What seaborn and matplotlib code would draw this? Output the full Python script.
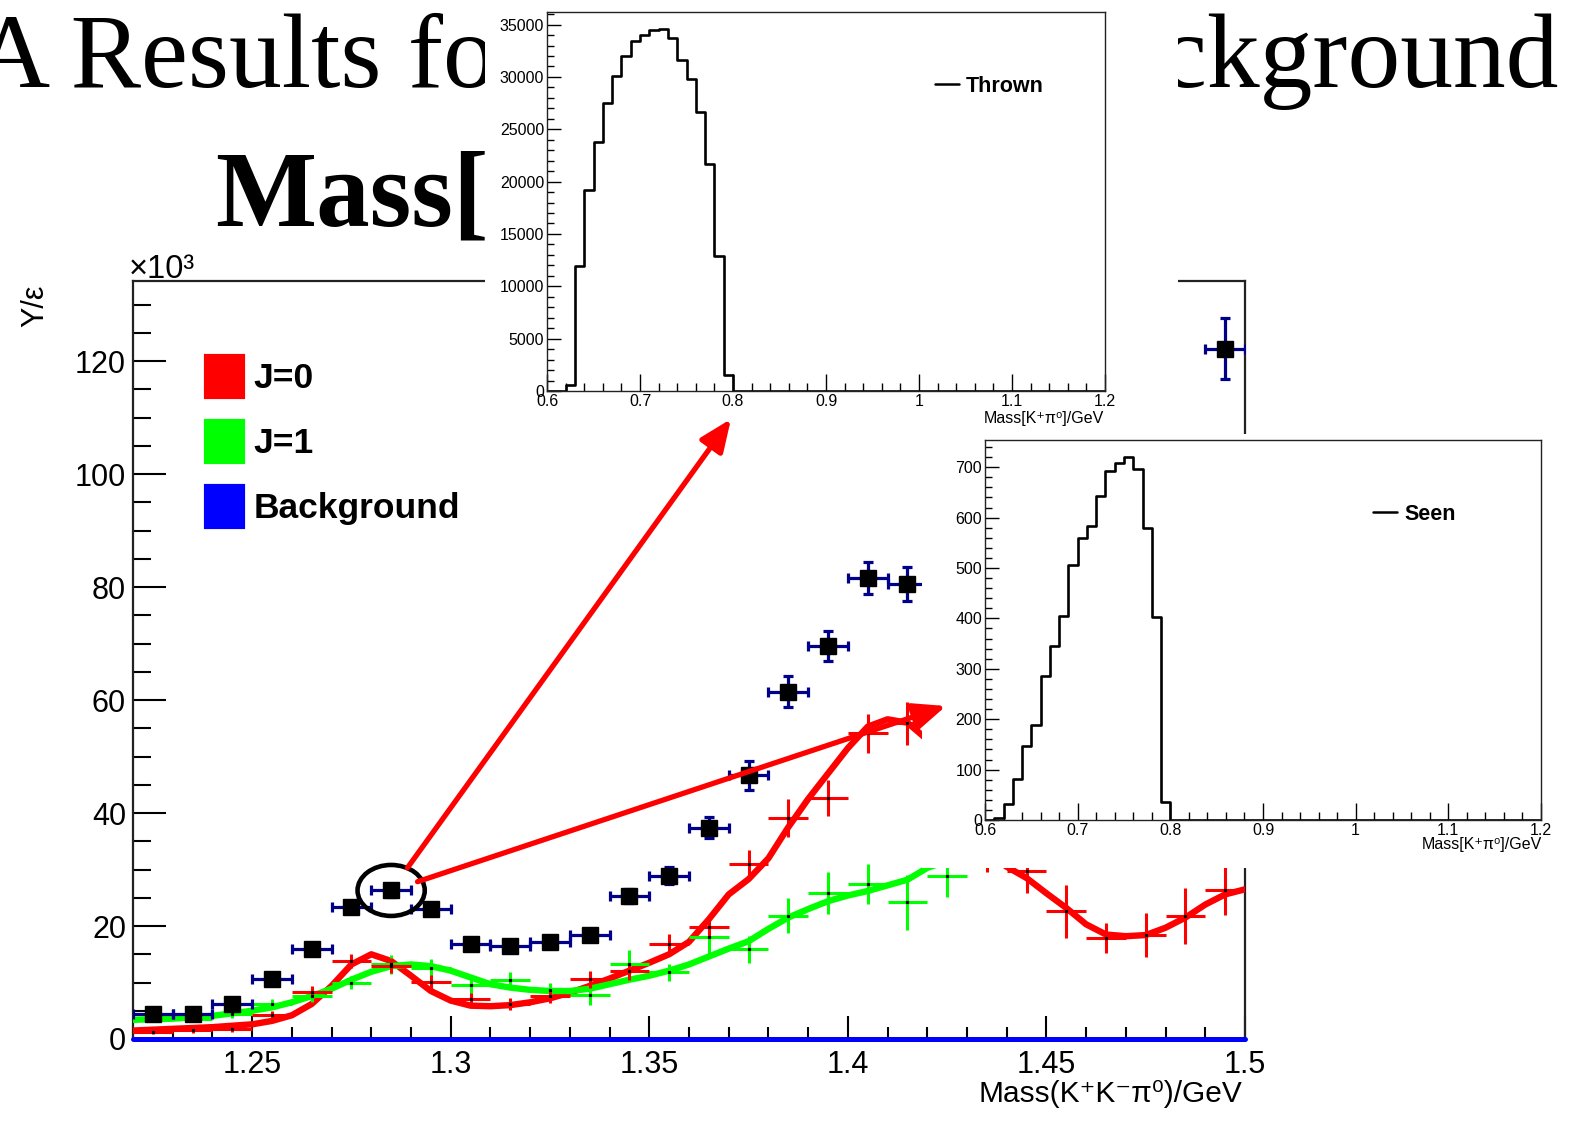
import numpy as np
import pandas as pd
import matplotlib
matplotlib.use("Agg")
import matplotlib.pyplot as plt
import seaborn as sns
from matplotlib.patches import Patch, Rectangle, Ellipse, ConnectionPatch
from matplotlib.ticker import MultipleLocator, FuncFormatter
from matplotlib.lines import Line2D

# ---------------- data ----------------
# main plot: bin centres (bin width 0.01 GeV)
bin_centers = [1.225, 1.235, 1.245, 1.255, 1.265, 1.275, 1.285, 1.295, 1.305, 1.315,
               1.325, 1.335, 1.345, 1.355, 1.365, 1.375, 1.385, 1.395, 1.405, 1.415,
               1.425, 1.435, 1.445, 1.455, 1.465, 1.475, 1.485, 1.495]
data_y = [4.4, 4.4, 6.2, 10.6, 15.9, 23.3, 26.3, 23.0, 16.9, 16.5,
          17.2, 18.4, 25.3, 28.9, 37.4, 46.7, 61.5, 69.6, 81.6, 80.6,
          86.0, 88.0, 90.0, 92.0, 93.0, 94.0, 95.0, 122.2]
data_err = [0.5, 0.5, 0.6, 0.8, 0.9, 1.0, 1.1, 1.0, 1.0, 1.0,
            1.0, 1.1, 1.3, 1.5, 1.9, 2.6, 2.7, 2.7, 2.8, 3.0,
            3.2, 3.4, 3.6, 3.8, 4.0, 4.4, 4.8, 5.4]
j0_y = [1.2, 1.6, 1.8, 4.2, 8.4, 13.8, 13.0, 10.1, 7.0, 6.2,
        7.6, 10.6, 12.0, 16.8, 19.9, 30.9, 39.1, 42.7, 54.1, 55.9,
        48.0, 34.0, 29.7, 22.6, 17.9, 18.4, 21.8, 26.4]
j0_err = [0.4, 0.5, 0.6, 0.8, 1.0, 1.2, 1.3, 1.3, 1.2, 1.0,
          1.2, 1.5, 1.5, 1.8, 2.0, 2.5, 3.4, 3.2, 3.4, 3.8,
          4.0, 4.5, 3.8, 4.7, 2.6, 3.9, 5.0, 4.4]
j1_y = [3.5, 3.6, 4.4, 6.2, 7.6, 10.0, 13.2, 12.6, 9.5, 10.5,
        8.7, 7.8, 13.2, 11.8, 18.0, 15.9, 21.8, 25.9, 27.4, 24.2,
        28.8, 35.0, 36.0, 37.0, 38.0, 39.0, 40.0, 41.0]
j1_err = [0.4, 0.5, 0.6, 0.8, 1.0, 1.2, 1.7, 1.5, 1.5, 1.3,
          1.3, 1.7, 2.5, 1.5, 3.2, 2.4, 3.1, 3.7, 3.5, 4.9,
          3.7, 4.0, 4.0, 4.0, 4.0, 4.0, 4.0, 4.0]

# fit curves
fit_x = [1.22, 1.23, 1.24, 1.25, 1.255, 1.26, 1.265, 1.27, 1.275, 1.28,
         1.285, 1.29, 1.295, 1.30, 1.305, 1.31, 1.315, 1.32, 1.325, 1.33,
         1.335, 1.34, 1.345, 1.35, 1.355, 1.36, 1.365, 1.37, 1.375, 1.38,
         1.385, 1.39, 1.395, 1.40, 1.405, 1.41, 1.415, 1.42, 1.425, 1.43,
         1.435, 1.44, 1.445, 1.45, 1.455, 1.46, 1.465, 1.47, 1.475, 1.48,
         1.485, 1.49, 1.495, 1.50]
fit_j0 = [1.5, 1.8, 2.1, 2.6, 3.2, 4.2, 6.2, 9.4, 13.2, 15.0,
          13.8, 11.2, 8.5, 6.8, 5.9, 5.8, 6.0, 6.5, 7.2, 8.2,
          9.4, 10.7, 12.1, 13.5, 15.0, 17.2, 21.2, 25.6, 28.3, 32.0,
          37.5, 42.5, 47.0, 51.5, 55.3, 56.6, 56.0, 53.0, 47.0, 40.0,
          33.0, 30.5, 28.5, 25.8, 23.2, 20.3, 18.5, 18.2, 18.4, 19.7,
          21.5, 23.8, 25.6, 26.5]
fit_j1 = [3.4, 3.6, 4.1, 5.0, 5.6, 6.5, 7.6, 8.9, 10.5, 11.9,
          12.9, 13.2, 12.9, 12.1, 10.9, 9.7, 9.1, 8.7, 8.5, 8.5,
          8.9, 9.7, 10.5, 11.2, 12.1, 13.2, 14.6, 16.0, 17.3, 19.5,
          21.5, 23.0, 24.4, 25.4, 26.2, 27.2, 28.2, 30.3, 31.5, 33.0,
          34.0, 35.0, 36.0, 37.0, 37.5, 38.5, 39.0, 40.0, 40.5, 41.0,
          42.0, 42.5, 43.0, 43.5]
fit_bkg = [0.0] * len(fit_x)

legend_labels = ["J=0", "J=1", "Background"]
legend_colors = ["#ff0000", "#00ff00", "#0000ff"]

# insets: histograms, 60 bins 0.6 .. 1.2
hist_lo, hist_hi, hist_n = 0.6, 1.2, 60
thrown = [0, 0, 570, 11900, 19240, 23770, 27500, 30060, 31960, 33420,
          33990, 34460, 34560, 33670, 31580, 29780, 26650, 21710, 12940, 1520] + [0] * 40
seen = [0, 4, 32, 81, 147, 189, 285, 345, 404, 505,
        560, 584, 643, 693, 709, 721, 697, 579, 403, 35] + [0] * 40

# ---------------- style ----------------
sns.set_theme(style="ticks")
plt.rcParams['font.family'] = ['Liberation Sans', 'DejaVu Sans']
plt.rcParams['text.color'] = 'black'
plt.rcParams['xtick.color'] = 'black'
plt.rcParams['ytick.color'] = 'black'
plt.rcParams['axes.edgecolor'] = 'black'
plt.rcParams['axes.unicode_minus'] = False

W, H = 1575, 1123
fig = plt.figure(figsize=(W / 100, H / 100), dpi=100)
fig.patch.set_facecolor('white')


def fx(px):
    return px / W


def fy(py):
    return 1 - py / H


serif = ['Liberation Serif', 'DejaVu Serif']

# ---------------- slide title (partly hidden by the insets) ----------------
fig.text(fx(-26), fy(87), "A Results for Signal and", family=serif, fontsize=76,
         ha='left', va='baseline', zorder=0.5)
fig.text(fx(1558), fy(87), "Background", family=serif, fontsize=76,
         ha='right', va='baseline', zorder=0.5)
fig.text(fx(215), fy(226), "Mass[K\u207a\u03c0\u2070]", family=serif, fontsize=77,
         fontweight='bold', ha='left', va='baseline', zorder=0.5)

# ---------------- main plot ----------------
ax = fig.add_axes([fx(133), fy(1039), (1245 - 133) / W, (1039 - 281) / H])
ax.set_zorder(1)
ax.set_facecolor('white')

sns.lineplot(x=fit_x, y=fit_bkg, ax=ax, color='#0000ff', linewidth=3.6, zorder=3, legend=False)
ax.lines[-1].set_clip_on(False)
sns.lineplot(x=fit_x, y=fit_j0, ax=ax, color='#ff0000', linewidth=4.6, zorder=3, legend=False)
sns.lineplot(x=fit_x, y=fit_j1, ax=ax, color='#00ff00', linewidth=4.6, zorder=3, legend=False)

ax.errorbar(bin_centers, j1_y, yerr=j1_err, xerr=0.005, fmt='none', ecolor='#00ff00',
            elinewidth=2.2, capsize=0, zorder=4)
ax.errorbar(bin_centers, j0_y, yerr=j0_err, xerr=0.005, fmt='none', ecolor='#ff0000',
            elinewidth=2.2, capsize=0, zorder=4)
ax.plot(bin_centers, j1_y, ls='none', marker='s', ms=1.3, color='black', zorder=4.5)
ax.plot(bin_centers, j0_y, ls='none', marker='s', ms=1.3, color='black', zorder=4.5)

ax.errorbar(bin_centers, data_y, yerr=data_err, xerr=0.005, fmt='s', ms=11.5,
            mfc='black', mec='black', ecolor='#00008b', elinewidth=2.3,
            capsize=3.5, capthick=2.3, zorder=6)

ax.add_patch(Ellipse((1.285, 26.3), width=67 / 3960, height=51 / 5.65, fill=False,
                     ec='black', lw=3.3, zorder=7))

ax.set_xlim(1.22, 1.5)
ax.set_ylim(0, 134.2)
ax.xaxis.set_major_locator(MultipleLocator(0.05))
ax.xaxis.set_minor_locator(MultipleLocator(0.01))
ax.yaxis.set_major_locator(MultipleLocator(20))
ax.yaxis.set_minor_locator(MultipleLocator(5))
fmt = FuncFormatter(lambda v, p: f"{v:g}")
ax.xaxis.set_major_formatter(fmt)
ax.yaxis.set_major_formatter(fmt)
ax.tick_params(which='both', direction='in', width=1.5, labelsize=22)
ax.tick_params(axis='y', which='major', length=24, pad=5)
ax.tick_params(axis='y', which='minor', length=13)
ax.tick_params(axis='x', which='major', length=16.5, pad=8)
ax.tick_params(axis='x', which='minor', length=8.5)
for s in ax.spines.values():
    s.set_linewidth(1.6)
    s.set_color('#222222')
ax.set_xlabel("")
ax.set_ylabel("")

handles = [Patch(facecolor=c, edgecolor=c, linewidth=3, joinstyle='round', label=l)
           for c, l in zip(legend_colors, legend_labels)]
ax.legend(handles=handles, loc='upper left', bbox_to_anchor=((206 - 133) / 1112, (1039 - 356) / 758),
          frameon=False, prop={'weight': 'bold', 'size': 25.5}, handlelength=1.05,
          handleheight=1.4, handletextpad=0.3, labelspacing=0.68, borderpad=0,
          borderaxespad=0)

fig.text(fx(35), fy(306), "Y/\u03b5", rotation=90, fontsize=22, ha='center', va='center')
fig.text(fx(129), fy(278), "\u00d710\u00b3", fontsize=23.5, ha='left', va='baseline')
fig.text(fx(1242), fy(1094), "Mass(K\u207aK\u207b\u03c0\u2070)/GeV", fontsize=21.5,
         ha='right', va='center')

# ---------------- inset backgrounds ----------------
fig.add_artist(Rectangle((fx(485), fy(434)), (1178 - 485) / W, 434 / H,
                         transform=fig.transFigure, fc='white', ec='none', zorder=2))
fig.add_artist(Rectangle((fx(922), fy(868)), (1565 - 922) / W, (868 - 434) / H,
                         transform=fig.transFigure, fc='white', ec='none', zorder=2))

bin_w = (hist_hi - hist_lo) / hist_n
centers = [hist_lo + (i + 0.5) * bin_w for i in range(hist_n)]


def style_inset(a, ymax, ymajor, yminor):
    a.set_xlim(hist_lo, hist_hi)
    a.set_ylim(0, ymax)
    a.xaxis.set_major_locator(MultipleLocator(0.1))
    a.xaxis.set_minor_locator(MultipleLocator(0.02))
    a.yaxis.set_major_locator(MultipleLocator(ymajor))
    a.yaxis.set_minor_locator(MultipleLocator(yminor))
    a.xaxis.set_major_formatter(fmt)
    a.yaxis.set_major_formatter(fmt)
    a.tick_params(which='both', direction='in', width=1.0, labelsize=11.5)
    a.tick_params(axis='y', which='major', length=10, pad=2)
    a.tick_params(axis='y', which='minor', length=5)
    a.tick_params(axis='x', which='major', length=12, pad=2)
    a.tick_params(axis='x', which='minor', length=6)
    for s in a.spines.values():
        s.set_linewidth(1.0)
        s.set_color('#222222')
    a.set_xlabel("")
    a.set_ylabel("")


ax1 = fig.add_axes([fx(547), fy(391), (1105 - 547) / W, (391 - 12) / H])
ax1.set_zorder(3)
sns.histplot(data=pd.DataFrame({'m': centers, 'w': thrown}), x='m', weights='w',
             bins=hist_n, binrange=(hist_lo, hist_hi),
             element='step', fill=False, color='black', linewidth=1.9, ax=ax1)
style_inset(ax1, 36200, 5000, 1000)
ax1.legend(handles=[Line2D([], [], color='black', lw=1.8)], labels=['Thrown'],
           loc='center left', bbox_to_anchor=((935 - 547) / 558, (391 - 86) / 379),
           frameon=False, prop={'weight': 'bold', 'size': 15.5}, handlelength=1.1,
           handletextpad=0.35, borderpad=0, borderaxespad=0)
fig.text(fx(1104), fy(418), "Mass[K\u207a\u03c0\u2070]/GeV", fontsize=11.5, ha='right',
         va='center', zorder=4)

ax2 = fig.add_axes([fx(985), fy(820), (1541 - 985) / W, (820 - 440) / H])
ax2.set_zorder(3)
sns.histplot(data=pd.DataFrame({'m': centers, 'w': seen}), x='m', weights='w',
             bins=hist_n, binrange=(hist_lo, hist_hi),
             element='step', fill=False, color='black', linewidth=1.9, ax=ax2)
style_inset(ax2, 754, 100, 20)
ax2.legend(handles=[Line2D([], [], color='black', lw=1.8)], labels=['Seen'],
           loc='center left', bbox_to_anchor=((1373 - 985) / 556, (820 - 514) / 380),
           frameon=False, prop={'weight': 'bold', 'size': 15.5}, handlelength=1.1,
           handletextpad=0.35, borderpad=0, borderaxespad=0)
fig.text(fx(1542), fy(845), "Mass[K\u207a\u03c0\u2070]/GeV", fontsize=11.5, ha='right',
         va='center', zorder=4)

# ---------------- red arrows ----------------
for tip in [(731, 419), (946, 706)]:
    arr = ConnectionPatch(xyA=(1.285, 26.3), coordsA=ax.transData,
                          xyB=(fx(tip[0]), fy(tip[1])), coordsB=fig.transFigure,
                          arrowstyle='-|>,head_length=1.3,head_width=0.55',
                          mutation_scale=15, lw=3.8, color='#ff0000',
                          shrinkA=20, shrinkB=0, zorder=10)
    fig.add_artist(arr)

fig.savefig('out.png', dpi=100, facecolor='white')
